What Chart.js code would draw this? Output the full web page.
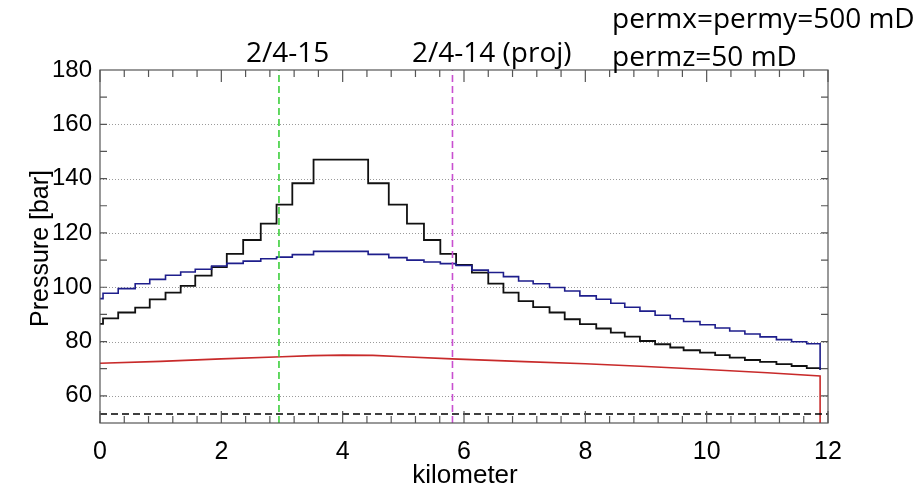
<!DOCTYPE html>
<html lang="en">

<head>
    <meta charset="UTF-8">
    <title>Pressure profile</title>
    <script src="https://cdn.jsdelivr.net/npm/chart.js"></script>
    <style>
        body {
            margin: 0;
            background: #fff;
        }

        #wrap {
            width: 924px;
            height: 489px;
        }
    </style>
</head>

<body>
    <div id="wrap"><canvas id="pressureChart" width="924" height="489"></canvas></div>

    <script>
        // cell start positions (km) for the stepped profiles
        const cellX = [0, 0.05, 0.3, 0.58, 0.82, 1.08, 1.33, 1.57, 1.84, 2.09, 2.36, 2.65, 2.91, 3.17, 3.52,
            4.42, 4.76, 5.06, 5.34, 5.61, 5.87, 6.13, 6.4, 6.65, 6.9, 7.14, 7.41, 7.66, 7.91, 8.18, 8.42,
            8.65, 8.9, 9.15, 9.4, 9.62, 9.89, 10.14, 10.38, 10.63, 10.88, 11.15, 11.4, 11.65, 11.87];

        // black stepped profile (bar)
        const blackP = [86.5, 88.5, 90.7, 92.5, 95.5, 98.0, 100.5, 104.3, 107.4, 112.3, 117.4, 123.4, 130.4, 138.3, 147.0,
            138.3, 130.4, 123.4, 117.4, 112.3, 108.2, 105.4, 101.3, 98.0, 94.9, 92.7, 90.7, 88.2, 86.4, 84.8, 83.3,
            81.8, 80.2, 79.0, 77.8, 76.8, 75.9, 75.0, 74.1, 73.2, 72.5, 71.7, 71.0, 70.2, 69.6];

        // blue stepped profile (bar)
        const blueP = [95.8, 97.8, 99.5, 101.3, 102.9, 104.4, 105.6, 106.6, 107.8, 108.8, 109.6, 110.5, 111.1, 112.0, 113.2,
            112.1, 110.9, 110.0, 109.3, 108.7, 108.0, 106.3, 105.4, 103.9, 102.3, 101.3, 99.9, 98.6, 96.8, 95.6, 94.1,
            92.6, 91.2, 89.7, 88.4, 87.4, 86.2, 85.0, 83.9, 82.8, 81.7, 80.7, 79.9, 79.2, 69.6];

        // red smooth profile
        const redX = [0, 1, 2, 3, 3.5, 4, 4.5, 5, 5.8, 7, 8, 9, 10, 11, 11.87, 11.87];
        const redP = [72.0, 72.7, 73.6, 74.4, 74.8, 75.0, 74.9, 74.4, 73.6, 72.6, 71.8, 70.8, 69.7, 68.5, 67.3, 50];

        // reference lines
        const hydroLevel = 53.3;
        const wellNames = ['2/4-15', '2/4-14 (proj)'];
        const wellX = [2.95, 5.81];

        const xTicks = [0, 2, 4, 6, 8, 10, 12];
        const yTicks = [60, 80, 100, 120, 140, 160, 180];

        const axisFont = '"Liberation Sans", Arial, sans-serif';
        const pts = (xs, ys) => xs.map((x, i) => ({ x: x, y: ys[i] }));

        // frame, inward ticks, dotted grid and annotation text
        const framePlugin = {
            id: 'frame',
            beforeDatasetsDraw(chart) {
                const { ctx, chartArea: a, scales } = chart;
                const y = scales.y;
                ctx.save();
                ctx.strokeStyle = '#9a9a9a';
                ctx.lineWidth = 1;
                ctx.setLineDash([1, 2]);
                for (let v = 60; v < 180; v += 20) {
                    const py = Math.round(y.getPixelForValue(v)) + 0.5;
                    ctx.beginPath();
                    ctx.moveTo(a.left, py);
                    ctx.lineTo(a.right, py);
                    ctx.stroke();
                }
                ctx.restore();
            },
            afterDraw(chart) {
                const { ctx, chartArea: a, scales } = chart;
                const x = scales.x, y = scales.y;
                ctx.save();
                ctx.strokeStyle = '#555';
                ctx.lineWidth = 1.2;
                ctx.strokeRect(a.left, a.top, a.right - a.left, a.bottom - a.top);
                // x ticks: minor every 0.4 km, major every 2 km
                for (let i = 0; i <= 30; i++) {
                    const v = i * 0.4;
                    const px = x.getPixelForValue(v);
                    const len = (i % 5 === 0) ? 12 : 7;
                    ctx.beginPath();
                    ctx.moveTo(px, a.bottom);
                    ctx.lineTo(px, a.bottom - len);
                    ctx.moveTo(px, a.top);
                    ctx.lineTo(px, a.top + len);
                    ctx.stroke();
                }
                // y ticks every 10 bar
                for (let v = 60; v < 180; v += 10) {
                    const py = y.getPixelForValue(v);
                    ctx.beginPath();
                    ctx.moveTo(a.left, py);
                    ctx.lineTo(a.left + 7, py);
                    ctx.moveTo(a.right, py);
                    ctx.lineTo(a.right - 7, py);
                    ctx.stroke();
                }
                // axis titles
                ctx.fillStyle = '#000';
                ctx.font = '26px ' + axisFont;
                ctx.textAlign = 'center';
                ctx.textBaseline = 'alphabetic';
                ctx.fillText('kilometer', (a.left + a.right) / 2 + 1, 483);
                ctx.font = '25px ' + axisFont;
                ctx.save();
                ctx.translate(48, (a.top + a.bottom) / 2 + 2);
                ctx.rotate(-Math.PI / 2);
                ctx.fillText('Pressure [bar]', 0, 0);
                ctx.restore();
                // annotations
                ctx.font = '28px "Open Sans", sans-serif';
                ctx.textAlign = 'left';
                ctx.fillText(wellNames[0], 246, 62);
                ctx.fillText(wellNames[1], 412, 62);
                ctx.fillText('permx=permy=500 mD', 612, 28);
                ctx.fillText('permz=50 mD', 612, 66);
                ctx.restore();
            }
        };

        const ctx = document.getElementById('pressureChart').getContext('2d');
        new Chart(ctx, {
            type: 'line',
            data: {
                datasets: [
                    {
                        data: pts([0, 12], [hydroLevel, hydroLevel]),
                        borderColor: '#000', borderWidth: 1.6, borderDash: [7, 4]
                    },
                    {
                        data: pts([wellX[0], wellX[0]], [50, 180]),
                        borderColor: '#3ccf3c', borderWidth: 1.6, borderDash: [7, 4]
                    },
                    {
                        data: pts([wellX[1], wellX[1]], [50, 180]),
                        borderColor: '#c94fd0', borderWidth: 1.6, borderDash: [7, 4]
                    },
                    {
                        data: pts(redX, redP),
                        borderColor: '#c82a2a', borderWidth: 1.6
                    },
                    {
                        data: pts(cellX, blueP),
                        borderColor: '#1e1e8c', borderWidth: 1.6, stepped: true
                    },
                    {
                        data: pts(cellX, blackP),
                        borderColor: '#111', borderWidth: 1.8, stepped: true
                    }
                ]
            },
            options: {
                responsive: false,
                animation: false,
                events: [],
                layout: { padding: { top: 70, right: 96, left: 0, bottom: 0 } },
                elements: { point: { radius: 0 }, line: { tension: 0 } },
                plugins: { legend: { display: false }, tooltip: { enabled: false } },
                scales: {
                    x: {
                        type: 'linear',
                        min: 0,
                        max: 12,
                        afterBuildTicks: s => { s.ticks = xTicks.map(v => ({ value: v })); },
                        afterFit: s => { s.height = 66; },
                        grid: { display: false, drawTicks: false },
                        border: { display: false },
                        ticks: {
                            padding: 14,
                            color: '#000',
                            font: { family: axisFont, size: 25 }
                        }
                    },
                    y: {
                        min: 50,
                        max: 180,
                        afterBuildTicks: s => { s.ticks = yTicks.map(v => ({ value: v })); },
                        afterFit: s => { s.width = 100; },
                        grid: { display: false, drawTicks: false },
                        border: { display: false },
                        ticks: {
                            padding: 8,
                            color: '#000',
                            font: { family: axisFont, size: 24 }
                        }
                    }
                }
            },
            plugins: [framePlugin]
        });
    </script>
</body>

</html>
